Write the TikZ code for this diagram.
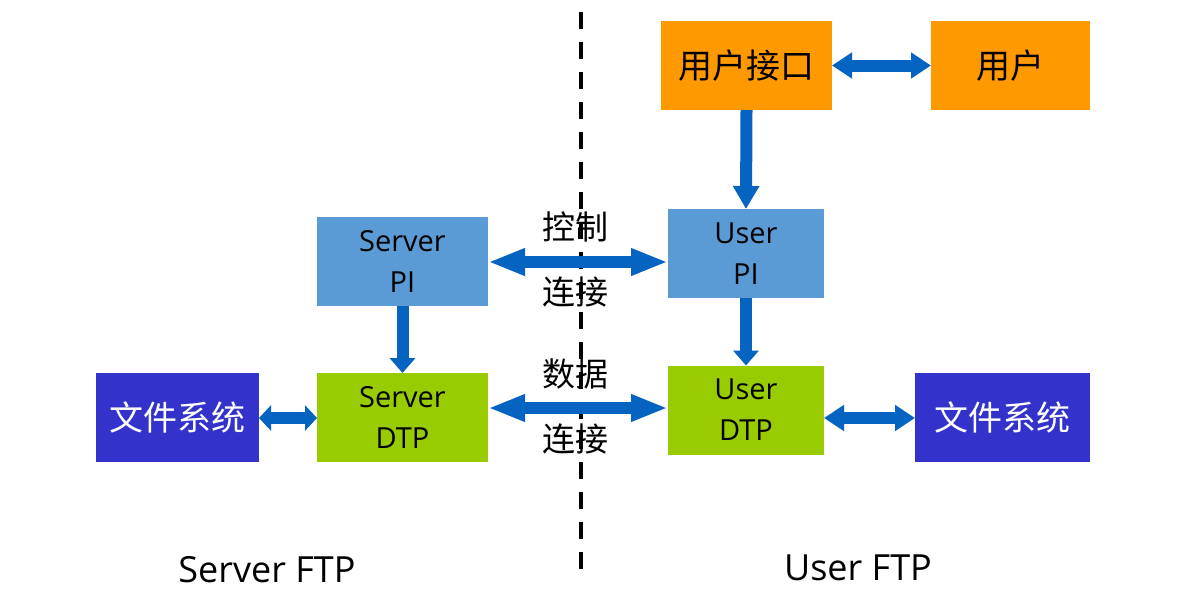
\documentclass[tikz,border=0pt]{standalone}
\usepackage{fontspec}
\setmainfont{Open Sans}
\newfontfamily\cjk{Noto Sans CJK SC}
\usetikzlibrary{arrows.meta}
\definecolor{orangebox}{RGB}{255,153,0}
\definecolor{bluebox}{RGB}{91,155,213}
\definecolor{greenbox}{RGB}{153,204,0}
\definecolor{indigobox}{RGB}{51,51,204}
\definecolor{arrowblue}{RGB}{5,99,193}
\tikzset{
  box/.style={draw=none, inner sep=0pt, outer sep=0pt, align=center, text=black},
  latinbox/.style={box, font=\fontsize{29}{41}\selectfont},
  cjkbox/.style={box, font=\cjk\fontsize{34}{40}\selectfont},
  barrow/.style={draw=arrowblue, line width=12pt},
  longhead/.style={barrow, {Triangle[length=37pt,width=25pt]}-{Triangle[length=37pt,width=25pt]}},
  medhead/.style={barrow, {Triangle[length=20pt,width=25pt]}-{Triangle[length=20pt,width=25pt]}},
  downhead/.style={barrow, -{Triangle[length=#1,width=25pt]}},
  lbl/.style={inner sep=0pt, font=\cjk\fontsize{33}{40}\selectfont},
  ftplbl/.style={inner sep=0pt, font=\fontsize{36}{40}\selectfont},
}
\begin{document}
\begin{tikzpicture}[x=1pt,y=-1pt]
\useasboundingbox (0,0) rectangle (1177,606);
% boxes
\node[cjkbox, fill=orangebox, minimum width=171pt, minimum height=89pt] (ui) at (746.5,65.5) {用户接口};
\node[cjkbox, fill=orangebox, minimum width=159pt, minimum height=89pt] (user) at (1010.5,65.5) {用户};
\node[latinbox, fill=bluebox, minimum width=171pt, minimum height=89pt] (spi) at (402.5,261) {Server\\PI};
\node[latinbox, fill=bluebox, minimum width=156pt, minimum height=89pt] (upi) at (746,253.5) {User\\PI};
\node[latinbox, fill=greenbox, minimum width=171pt, minimum height=89pt] (sdtp) at (402.5,417.5) {Server\\DTP};
\node[latinbox, fill=greenbox, minimum width=156pt, minimum height=89pt] (udtp) at (746,410) {User\\DTP};
\node[cjkbox, fill=indigobox, text=white, minimum width=163pt, minimum height=89pt] (fsl) at (177.5,417.5) {文件系统};
\node[cjkbox, fill=indigobox, text=white, minimum width=175pt, minimum height=89pt] (fsr) at (1002.5,417.5) {文件系统};
% dashed divider
\coordinate (dtop) at (581,12);
\coordinate (dbot) at (581,580);
\draw[line width=3.5pt, dash pattern=on 17pt off 13pt] (dtop) -- (dbot);
% labels
\node[lbl] (l1) at (575,227) {控制};
\node[lbl] (l2) at (575,292) {连接};
\node[lbl] (l3) at (575,374) {数据};
\node[lbl] (l4) at (575,439) {连接};
\node[ftplbl] (sftp) at (267,570) {Server FTP};
\node[ftplbl] (uftp) at (858,568) {User FTP};
% arrows
\draw[medhead] (ui.east) -- (user.west);
\draw[downhead=23pt] (ui.south) -- (upi.north);
\draw[longhead] (spi.east |- 0,262) -- (upi.west |- 0,262);
\draw[longhead] (sdtp.east |- 0,408) -- (udtp.west |- 0,408);
\draw[downhead=15pt] (spi.south) -- (sdtp.north);
\draw[downhead=15pt] (upi.south) -- (udtp.north);
\draw[barrow, {Triangle[length=12pt,width=25pt]}-{Triangle[length=12pt,width=25pt]}] (fsl.east |- 0,418) -- (sdtp.west |- 0,418);
\draw[medhead] (udtp.east |- 0,418) -- (fsr.west |- 0,418);
\end{tikzpicture}
\end{document}
